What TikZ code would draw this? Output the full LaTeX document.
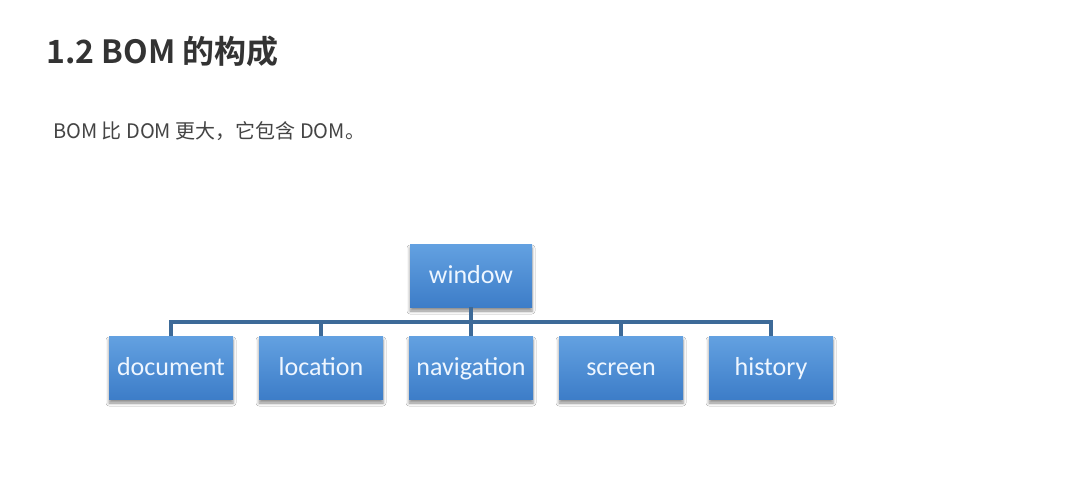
\documentclass[tikz,border=0pt]{standalone}
\usepackage{fontspec}
\newfontfamily\cjk{Noto Sans CJK SC}
\newfontfamily\cjkbold{Noto Sans CJK SC Bold}
\newfontfamily\carlito{Carlito}
\usetikzlibrary{shadows,shadows.blur}
\definecolor{titlegray}{HTML}{333333}
\definecolor{textgray}{HTML}{444444}
\definecolor{boxtop}{HTML}{63A1E1}
\definecolor{boxbot}{HTML}{3D7DC8}
\definecolor{linecol}{HTML}{3D6A98}
\definecolor{boxtext}{HTML}{EEF6FF}
\tikzset{
  box/.style={rectangle, minimum width=124pt, minimum height=63pt, inner sep=0pt,
    text height=17pt, text depth=1pt,
    top color=boxtop, bottom color=boxbot, draw=none, text=boxtext,
    font=\carlito\fontsize{26}{30}\selectfont,
    blur shadow={shadow xshift=0pt, shadow yshift=-4pt, shadow blur radius=3pt, shadow opacity=45}},
  conn/.style={draw=linecol, line width=3.2pt},
}
\begin{document}
\begin{tikzpicture}[x=1pt,y=-1pt]
\fill[white] (0,0) rectangle (1089,483);
\useasboundingbox (0,0) rectangle (1089,483);
\node[anchor=base west, text=titlegray, font=\cjkbold\fontsize{32}{38}\selectfont, inner sep=0pt] (title) at (46,63) {1.2 BOM 的构成};
\node[anchor=base west, text=textgray, font=\cjk\fontsize{20}{24}\selectfont, inner sep=0pt] (sub) at (53,138) {BOM 比 DOM 更大，它包含 DOM。};
\node[box, minimum width=122pt] (window) at (471,275.5) {window};
\node[box] (document) at (171,367.5) {document};
\node[box] (location) at (321,367.5) {location};
\node[box] (navigation) at (471,367.5) {navigation};
\node[box] (screen) at (621,367.5) {screen};
\node[box] (history) at (771,367.5) {history};
\coordinate (bus) at (471,322);
\draw[conn] (document.north) -- (document.north |- bus) -- (history.north |- bus) -- (history.north);
\draw[conn] (window.south) -- (navigation.north);
\draw[conn] (location.north) -- (location.north |- bus);
\draw[conn] (screen.north) -- (screen.north |- bus);
\end{tikzpicture}
\end{document}
